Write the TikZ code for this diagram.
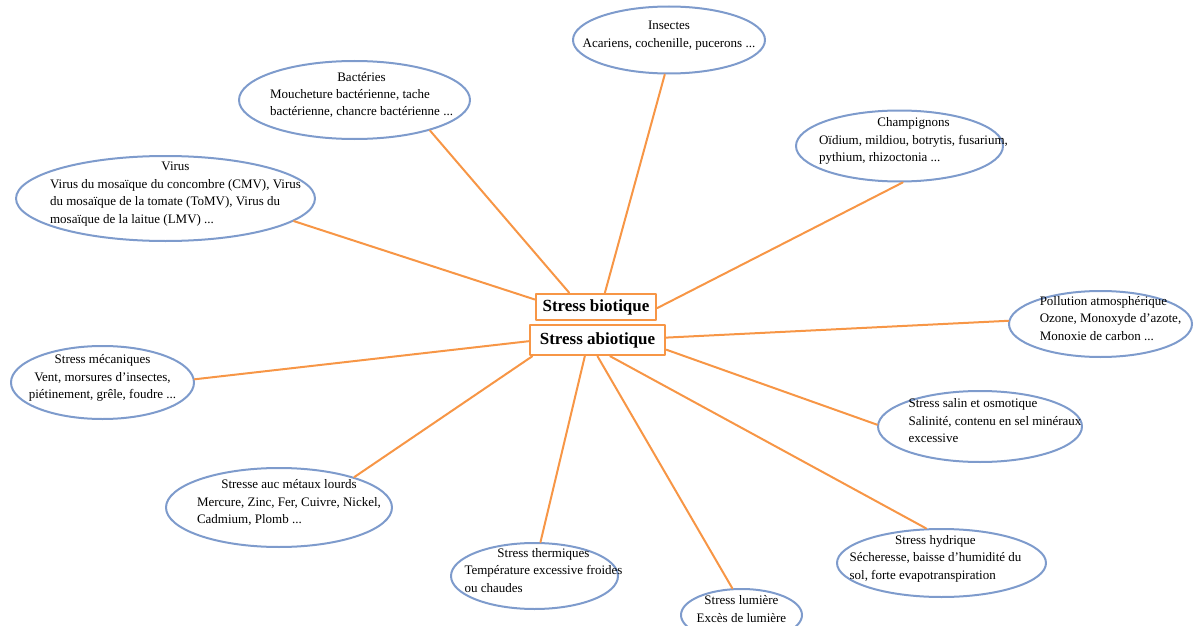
\documentclass[tikz,border=0pt]{standalone}
\usepackage{fontspec}
\setmainfont{Liberation Serif}
\usetikzlibrary{shapes.geometric}
\definecolor{bordbleu}{HTML}{7E9BCC}
\definecolor{orangetrait}{HTML}{F79646}
\newcommand{\titre}[1]{\multicolumn{1}{@{}c@{}}{#1}}
% #2 : decalage horizontal du texte
\newcommand{\bloc}[3][l]{\makebox[0pt]{\hspace*{#2}\smash{\raisebox{2pt}{\begin{tabular}{@{}#1@{}}#3\end{tabular}}}\hspace*{-#2}}}
\begin{document}
\begin{tikzpicture}[x=1pt, y=-1pt, line join=round, line cap=round,
  bulle/.style={ellipse, draw=bordbleu, line width=2pt, inner sep=0pt, font=\fontsize{13}{17.5}\selectfont},
  cadre/.style={draw=orangetrait, line width=2.5pt, fill=white, inner sep=0pt, font=\bfseries\fontsize{17}{20}\selectfont},
  lien/.style={draw=orangetrait, line width=2pt}]
\useasboundingbox (0,0) rectangle (1195,626);
% les deux cadres du centre
\node[cadre, minimum width=120pt, minimum height=26pt] (bio) at (596,307) {Stress biotique};
\node[cadre, minimum width=135pt, minimum height=30pt] (abio) at (597.5,340) {Stress abiotique};
% stress biotique
\node[bulle, minimum width=192pt, minimum height=67pt] (insectes) at (669,40)
  {\bloc{0pt}{\titre{Insectes}\\Acariens, cochenille, pucerons ...}};
\node[bulle, minimum width=231pt, minimum height=78pt] (bacteries) at (354.5,100)
  {\bloc{7pt}{\titre{Bactéries}\\Moucheture bactérienne, tache\\bactérienne, chancre bactérienne ...}};
\node[bulle, minimum width=299pt, minimum height=85pt] (virus) at (165.5,198.5)
  {\bloc{10pt}{\titre{Virus}\\Virus du mosaïque du concombre (CMV), Virus\\du mosaïque de la tomate (ToMV), Virus du\\mosaïque de la laitue (LMV) ...}};
\node[bulle, minimum width=207pt, minimum height=71pt] (champignons) at (899.5,146)
  {\bloc{14pt}{\titre{Champignons}\\Oïdium, mildiou, botrytis, fusarium,\\pythium, rhizoctonia ...}};
% stress abiotique
\node[bulle, minimum width=183pt, minimum height=66pt] (pollution) at (1100.5,324)
  {\bloc{10pt}{Pollution atmosphérique\\Ozone, Monoxyde d'azote,\\Monoxie de carbon ...}};
\node[bulle, minimum width=183pt, minimum height=73pt] (mecaniques) at (102.5,382.5)
  {\bloc[c]{0pt}{Stress mécaniques\\Vent, morsures d'insectes,\\piétinement, grêle, foudre ...}};
\node[bulle, minimum width=204pt, minimum height=71pt] (salin) at (980,426.5)
  {\bloc{15pt}{Stress salin et osmotique\\Salinité, contenu en sel minéraux\\excessive}};
\node[bulle, minimum width=226pt, minimum height=79pt] (metaux) at (279,507.5)
  {\bloc{10pt}{\titre{Stresse auc métaux lourds}\\Mercure, Zinc, Fer, Cuivre, Nickel,\\Cadmium, Plomb ...}};
\node[bulle, minimum width=167pt, minimum height=66pt] (thermiques) at (534.5,576)
  {\bloc{9pt}{\titre{Stress thermiques}\\Température excessive froides\\ou chaudes}};
\node[bulle, minimum width=121pt, minimum height=52pt] (lumiere) at (741.5,615)
  {\bloc[c]{0pt}{Stress lumière\\Excès de lumière}};
\node[bulle, minimum width=209pt, minimum height=68pt] (hydrique) at (941.5,563)
  {\bloc{-6pt}{\titre{Stress hydrique}\\Sécheresse, baisse d'humidité du\\sol, forte evapotranspiration}};
% liens
\draw[lien] (insectes.-97) -- (bio.58);
\draw[lien] (bacteries.-22) -- (bio.152);
\draw[lien] (virus.-10) -- (bio.173);
\draw[lien] (champignons.-85) -- (bio.-1);
\draw[lien] (pollution.178) -- (abio.2);
\draw[lien] (mecaniques.2) -- (abio.181);
\draw[lien] (salin.179) -- (abio.-8);
\draw[lien] (metaux.22) -- (abio.194);
\draw[lien] (thermiques.80) -- (abio.232);
\draw[lien] (lumiere.109) -- (abio.270);
\draw[lien] (hydrique.114) -- (abio.308);
\end{tikzpicture}
\end{document}
